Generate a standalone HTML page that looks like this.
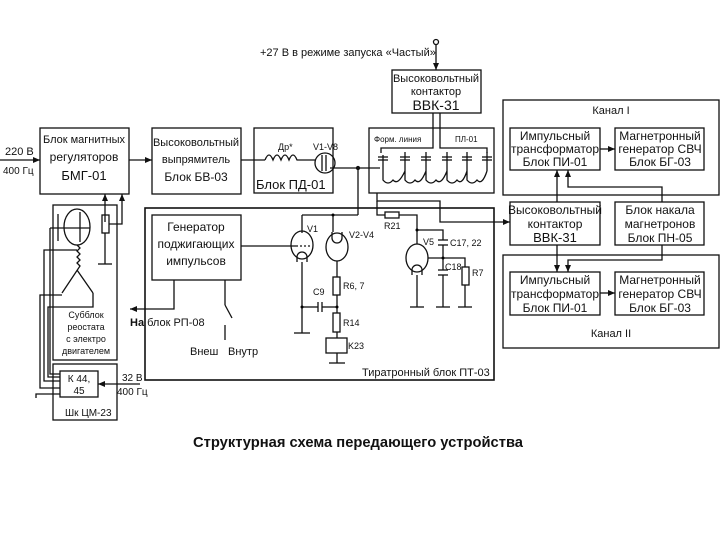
<!DOCTYPE html>
<html><head><meta charset="utf-8"><style>
html,body{margin:0;padding:0;background:#fff;}
svg{display:block;}
text{font-family:"Liberation Sans",sans-serif;fill:#111;}
</style></head><body>
<svg width="720" height="540" viewBox="0 0 720 540" xmlns="http://www.w3.org/2000/svg">
<defs><marker id="a" markerWidth="8" markerHeight="8" refX="7" refY="4" orient="auto" markerUnits="userSpaceOnUse"><path d="M0,1 L7,4 L0,7 z" fill="#111"/></marker></defs>
<g fill="none" stroke="#111" stroke-width="1.3">
<rect x="392" y="70" width="89" height="43"/>
<rect x="503" y="100" width="216" height="95"/>
<rect x="510" y="128" width="90" height="42"/>
<rect x="615" y="128" width="89" height="42"/>
<rect x="510" y="202" width="90" height="43"/>
<rect x="615" y="202" width="89" height="43"/>
<rect x="503" y="255" width="216" height="93"/>
<rect x="510" y="272" width="90" height="43"/>
<rect x="615" y="272" width="89" height="43"/>
<rect x="40" y="128" width="89" height="66"/>
<rect x="152" y="128" width="89" height="66"/>
<rect x="254" y="128" width="79" height="65"/>
<rect x="369" y="128" width="125" height="65"/>
<rect x="145" y="208" width="349" height="172" stroke-width="1.6"/>
<rect x="152" y="215" width="89" height="65"/>
<rect x="53" y="205" width="64" height="155"/>
<rect x="53" y="364" width="64" height="56"/>
<rect x="60" y="371" width="38" height="26"/>
<circle cx="436" cy="42" r="2.5"/>
<line x1="436" y1="45" x2="436" y2="70" marker-end="url(#a)"/>
<line x1="600" y1="149" x2="615" y2="149" marker-end="url(#a)"/>
<line x1="600" y1="293" x2="615" y2="293" marker-end="url(#a)"/>
<line x1="557" y1="202" x2="557" y2="170" marker-end="url(#a)"/>
<polyline points="662,202 662,187 568,187 568,170" marker-end="url(#a)"/>
<line x1="557" y1="245" x2="557" y2="272" marker-end="url(#a)"/>
<polyline points="662,245 662,260 568,260 568,272" marker-end="url(#a)"/>
<line x1="0" y1="160" x2="40" y2="160" marker-end="url(#a)"/>
<line x1="129" y1="160" x2="152" y2="160" marker-end="url(#a)"/>
<line x1="241" y1="160" x2="265" y2="160"/>
<path d="M265,160 q4,-10 8,0 q4,-10 8,0 q4,-10 8,0 q4,-10 8,0 L315,160"/>
<circle cx="325" cy="163" r="10"/>
<line x1="322" y1="155" x2="322" y2="171"/><line x1="326" y1="155" x2="326" y2="171"/>
<line x1="330" y1="168" x2="380" y2="168"/>
<circle cx="358" cy="168" r="1.5" fill="#111"/>
<line x1="358" y1="168" x2="358" y2="215"/>
<polyline points="358,215 333,215 333,232"/>
<line x1="302" y1="215" x2="333" y2="215"/>
<line x1="302" y1="215" x2="302" y2="233"/>
<polyline points="433,113 433,148 381,148 381,153"/>
<polyline points="440,113 440,148 487,148 487,153"/>
<g>
<line x1="383" y1="155" x2="383" y2="171"/><line x1="378" y1="157" x2="388" y2="157"/><line x1="378" y1="160" x2="388" y2="160"/>
<line x1="405" y1="152" x2="405" y2="171"/><line x1="400" y1="157" x2="410" y2="157"/><line x1="400" y1="160" x2="410" y2="160"/>
<line x1="426" y1="152" x2="426" y2="171"/><line x1="421" y1="157" x2="431" y2="157"/><line x1="421" y1="160" x2="431" y2="160"/>
<line x1="447" y1="152" x2="447" y2="171"/><line x1="442" y1="157" x2="452" y2="157"/><line x1="442" y1="160" x2="452" y2="160"/>
<line x1="467" y1="152" x2="467" y2="171"/><line x1="462" y1="157" x2="472" y2="157"/><line x1="462" y1="160" x2="472" y2="160"/>
<line x1="487" y1="152" x2="487" y2="171"/><line x1="482" y1="157" x2="492" y2="157"/><line x1="482" y1="160" x2="492" y2="160"/>
</g>
<path d="M383,171 L383,180 q5,6 10,0 q5,6 12,-9 L405,180 q5,6 10,0 q5,6 11,-9 L426,180 q5,6 10,0 q5,6 11,-9 L447,180 q5,6 10,0 q5,6 10,-9 L467,180 q5,6 10,0 q5,6 10,-9"/>
<polyline points="377,193 377,201 440,201 440,222 510,222" marker-end="url(#a)"/>
<polyline points="377,201 377,215 385,215"/>
<line x1="105" y1="222" x2="105" y2="194" marker-end="url(#a)"/>
<polyline points="109,224 122,224 122,194" marker-end="url(#a)"/>
<rect x="102" y="215" width="7" height="18"/>
<line x1="105" y1="233" x2="105" y2="264"/><line x1="98" y1="264" x2="112" y2="264"/>
<ellipse cx="77" cy="227" rx="13" ry="18"/>
<line x1="58" y1="214" x2="58" y2="241"/>
<line x1="50" y1="228" x2="90" y2="228"/>
<line x1="80" y1="212" x2="80" y2="242"/>
<path d="M77,245 l3,3 -3,3 3,3 -3,3 3,3 -3,3 3,3 L62,293 M77,270 L93,293"/>
<polyline points="60,374 50,374 50,228"/>
<polyline points="60,381 44,381 44,250 77,250"/>
<polyline points="60,388 40,388 40,295 62,295"/>
<polyline points="60,394 36,394 36,398"/>
<polyline points="60,377 48,377 48,307 93,307 93,293"/>
<line x1="140" y1="384" x2="98" y2="384" marker-end="url(#a)"/>
<line x1="241" y1="246" x2="296" y2="246"/>
<polyline points="174,280 174,309 130,309" marker-end="url(#a)"/>
<line x1="225" y1="280" x2="225" y2="305"/><line x1="225" y1="305" x2="232" y2="318"/><line x1="225" y1="325" x2="225" y2="340"/>
<ellipse cx="302" cy="245" rx="11" ry="14"/>
<ellipse cx="337" cy="247" rx="11" ry="14"/>
<ellipse cx="417" cy="258" rx="11" ry="14"/>
<line x1="296" y1="246" x2="310" y2="246" stroke-dasharray="2,2"/>
<path d="M297,262 v-5 a5,5 0 0 1 10,0 v5"/>
<path d="M332,232 v6 a5,5 0 0 0 10,0 v-6"/>
<path d="M412,275 v-5 a5,5 0 0 1 10,0 v5"/>
<line x1="302" y1="262" x2="302" y2="333"/><line x1="294" y1="333" x2="310" y2="333"/>
<line x1="337" y1="261" x2="337" y2="277"/>
<rect x="333" y="277" width="7" height="18"/>
<line x1="337" y1="295" x2="337" y2="313"/>
<line x1="302" y1="307" x2="318" y2="307"/><line x1="318" y1="302" x2="318" y2="312"/><line x1="322" y1="302" x2="322" y2="312"/><line x1="322" y1="307" x2="337" y2="307"/>
<rect x="333" y="313" width="7" height="19"/>
<line x1="337" y1="332" x2="337" y2="338"/>
<rect x="326" y="338" width="21" height="15"/>
<line x1="337" y1="353" x2="337" y2="363"/><line x1="329" y1="363" x2="345" y2="363"/>
<rect x="385" y="212" width="14" height="6"/>
<polyline points="399,215 417,215 417,244"/>
<polyline points="417,230 443,230 443,240"/>
<line x1="438" y1="240" x2="448" y2="240"/><line x1="438" y1="245" x2="448" y2="245"/>
<line x1="443" y1="245" x2="443" y2="258"/>
<polyline points="428,258 465,258 465,267"/>
<line x1="443" y1="258" x2="443" y2="270"/>
<line x1="438" y1="270" x2="448" y2="270"/><line x1="438" y1="275" x2="448" y2="275"/>
<line x1="443" y1="275" x2="443" y2="307"/>
<rect x="462" y="267" width="7" height="18"/>
<line x1="465" y1="285" x2="465" y2="307"/>
<line x1="417" y1="275" x2="417" y2="307"/>
<line x1="410" y1="307" x2="424" y2="307"/><line x1="436" y1="307" x2="450" y2="307"/><line x1="458" y1="307" x2="472" y2="307"/>
</g>
<circle cx="337" cy="307" r="1.5"/><circle cx="302" cy="307" r="1.5"/><circle cx="443" cy="258" r="1.5"/><circle cx="417" cy="230" r="1.5"/><circle cx="333" cy="215" r="1.5"/>
<g font-size="11">
<text x="260" y="56">+27 В в режиме запуска «Частый»</text>
<text x="436" y="82" text-anchor="middle">Высоковольтный</text>
<text x="436" y="95" text-anchor="middle">контактор</text>
<text x="436" y="110" text-anchor="middle" font-size="14">ВВК-31</text>
<text x="611" y="114" text-anchor="middle">Канал I</text>
<g font-size="12">
<text x="555" y="140" text-anchor="middle">Импульсный</text>
<text x="555" y="153" text-anchor="middle">трансформатор</text>
<text x="555" y="166" text-anchor="middle">Блок ПИ-01</text>
<text x="660" y="140" text-anchor="middle">Магнетронный</text>
<text x="660" y="153" text-anchor="middle">генератор СВЧ</text>
<text x="660" y="166" text-anchor="middle">Блок БГ-03</text>
<text x="555" y="214" text-anchor="middle">Высоковольтный</text>
<text x="555" y="228" text-anchor="middle">контактор</text>
<text x="555" y="242" text-anchor="middle" font-size="13">ВВК-31</text>
<text x="660" y="214" text-anchor="middle">Блок накала</text>
<text x="660" y="228" text-anchor="middle">магнетронов</text>
<text x="660" y="242" text-anchor="middle">Блок ПН-05</text>
<text x="555" y="284" text-anchor="middle">Импульсный</text>
<text x="555" y="298" text-anchor="middle">трансформатор</text>
<text x="555" y="312" text-anchor="middle">Блок ПИ-01</text>
<text x="660" y="284" text-anchor="middle">Магнетронный</text>
<text x="660" y="298" text-anchor="middle">генератор СВЧ</text>
<text x="660" y="312" text-anchor="middle">Блок БГ-03</text>
</g>
<text x="611" y="337" text-anchor="middle">Канал II</text>
<text x="5" y="155">220 В</text>
<text x="3" y="174" font-size="10">400 Гц</text>
<text x="84" y="143" text-anchor="middle">Блок магнитных</text>
<text x="84" y="161" text-anchor="middle" font-size="12">регуляторов</text>
<text x="84" y="180" text-anchor="middle" font-size="13">БМГ-01</text>
<text x="196" y="146" text-anchor="middle">Высоковольтный</text>
<text x="196" y="163" text-anchor="middle">выпрямитель</text>
<text x="196" y="181" text-anchor="middle" font-size="12">Блок БВ-03</text>
<text x="278" y="150" font-size="9">Др*</text>
<text x="313" y="150" font-size="9">V1-V8</text>
<text x="256" y="189" font-size="13">Блок ПД-01</text>
<text x="374" y="142" font-size="8">Форм. линия</text>
<text x="455" y="142" font-size="8">ПЛ-01</text>
<text x="196" y="231" text-anchor="middle" font-size="12">Генератор</text>
<text x="196" y="248" text-anchor="middle" font-size="12">поджигающих</text>
<text x="196" y="265" text-anchor="middle" font-size="12">импульсов</text>
<text x="130" y="326" font-size="11"><tspan font-weight="bold">На</tspan> блок РП-08</text>
<text x="190" y="355">Внеш</text>
<text x="228" y="355">Внутр</text>
<text x="307" y="232" font-size="9">V1</text>
<text x="349" y="238" font-size="9">V2-V4</text>
<text x="343" y="289" font-size="9">R6, 7</text>
<text x="313" y="295" font-size="9">C9</text>
<text x="343" y="326" font-size="9">R14</text>
<text x="348" y="349" font-size="9">K23</text>
<text x="384" y="229" font-size="9">R21</text>
<text x="423" y="245" font-size="9">V5</text>
<text x="450" y="246" font-size="9">C17, 22</text>
<text x="445" y="270" font-size="9">C18</text>
<text x="472" y="276" font-size="9">R7</text>
<text x="362" y="376">Тиратронный блок ПТ-03</text>
<text x="86" y="318" text-anchor="middle" font-size="9">Субблок</text>
<text x="86" y="330" text-anchor="middle" font-size="9">реостата</text>
<text x="86" y="342" text-anchor="middle" font-size="9">с электро</text>
<text x="86" y="354" text-anchor="middle" font-size="9">двигателем</text>
<text x="79" y="382" text-anchor="middle" font-size="10">К 44,</text>
<text x="79" y="394" text-anchor="middle" font-size="10">45</text>
<text x="65" y="416" font-size="10">Шк ЦМ-23</text>
<text x="122" y="381" font-size="10">32 В</text>
<text x="117" y="395" font-size="10">400 Гц</text>
<text x="193" y="447" font-size="15" font-weight="bold" textLength="330" lengthAdjust="spacingAndGlyphs">Структурная схема передающего устройства</text>
</g>
</svg>
</body></html>
